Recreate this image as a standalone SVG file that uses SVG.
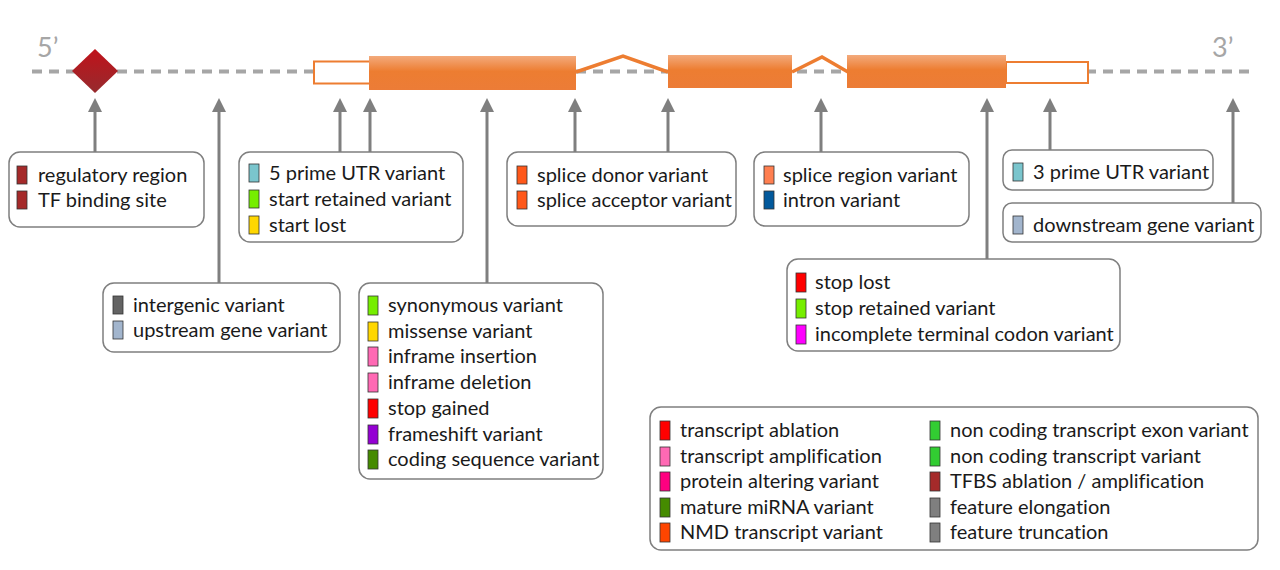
<svg xmlns="http://www.w3.org/2000/svg" width="1280" height="570" viewBox="0 0 1280 570">
<style>
.box{fill:#fff;stroke:#7f7f7f;stroke-width:1.5}
.t{font-family:Lato,"Liberation Sans",sans-serif;font-size:20px;fill:#1a1a1a;font-variant-ligatures:none}
.end{font-family:Lato,"Liberation Sans",sans-serif;font-size:27px;fill:#a6a6a6}
.sw{stroke:#333;stroke-width:0.8}
.arr{stroke:#7f7f7f;stroke-width:3;fill:none;marker-end:url(#ah)}
.exon{fill:url(#eg)}
.utr{fill:#fff;stroke:#ed7d31;stroke-width:2}
.intron{fill:none;stroke:#ed7d31;stroke-width:3.5;stroke-linejoin:miter}
</style>
<defs>
<marker id="ah" markerUnits="userSpaceOnUse" markerWidth="14" markerHeight="14" viewBox="0 0 12 12" refX="0" refY="6" orient="auto">
<path d="M0,0 L12,6 L0,12 z" fill="#7f7f7f"/>
</marker>
<linearGradient id="eg" x1="0" y1="0" x2="0" y2="1">
<stop offset="0" stop-color="#f3aa7c"/>
<stop offset="0.45" stop-color="#ed7d31"/>
<stop offset="1" stop-color="#ec7c37"/>
</linearGradient>
<linearGradient id="dg" x1="0" y1="0" x2="0" y2="1">
<stop offset="0" stop-color="#c0121a"/>
<stop offset="1" stop-color="#962b2e"/>
</linearGradient>
</defs>
<rect width="1280" height="570" fill="#fff"/>

<g id="gene">
<line x1="32" y1="71.5" x2="1250" y2="71.5" stroke="#a6a6a6" stroke-width="4" stroke-dasharray="10,7"/>
<text class="end" x="37" y="57">5’</text>
<text class="end" x="1212" y="57">3’</text>
<polygon points="95,49 118,71 95,93 72,71" fill="url(#dg)"/>
<rect class="utr" x="314" y="61.5" width="56" height="22"/>
<rect class="utr" x="1006" y="62" width="82" height="21"/>
<polyline class="intron" points="576,72 623,56 668,72"/>
<polyline class="intron" points="792,72 822,57 848,72"/>
<rect class="exon" x="369" y="56" width="207" height="34"/>
<rect class="exon" x="668" y="55" width="124" height="33"/>
<rect class="exon" x="847" y="55" width="159" height="33"/>
</g>

<g id="connectors">
<line class="arr" x1="95" y1="152" x2="95" y2="112"/>
<line class="arr" x1="219" y1="283" x2="219" y2="112"/>
<line class="arr" x1="340" y1="152" x2="340" y2="112"/>
<line class="arr" x1="370" y1="152" x2="370" y2="112"/>
<line class="arr" x1="487" y1="283" x2="487" y2="112"/>
<line class="arr" x1="575" y1="152" x2="575" y2="112"/>
<line class="arr" x1="668" y1="152" x2="668" y2="112"/>
<line class="arr" x1="821" y1="152" x2="821" y2="112"/>
<line class="arr" x1="987" y1="259" x2="987" y2="112"/>
<line class="arr" x1="1050" y1="150" x2="1050" y2="112"/>
<line class="arr" x1="1233" y1="203" x2="1233" y2="112"/>
</g>

<g id="regulatory">
<rect class="box" x="9" y="152" width="195" height="75" rx="11"/>
<rect class="sw" x="17" y="166" width="10" height="18" fill="#a52a2a"/>
<text class="t" x="38" y="182">regulatory region</text>
<rect class="sw" x="17" y="191" width="10" height="18" fill="#a52a2a"/>
<text class="t" x="38" y="207">TF binding site</text>
</g>

<g id="utr5">
<rect class="box" x="239" y="152" width="224" height="90" rx="11"/>
<rect class="sw" x="249" y="164" width="10" height="18" fill="#7ac5cd"/>
<text class="t" x="269" y="180">5 prime UTR variant</text>
<rect class="sw" x="249" y="190" width="10" height="18" fill="#76ee00"/>
<text class="t" x="269" y="206">start retained variant</text>
<rect class="sw" x="249" y="216" width="10" height="18" fill="#ffd700"/>
<text class="t" x="269" y="232">start lost</text>
</g>

<g id="splice">
<rect class="box" x="507" y="152" width="229" height="74" rx="11"/>
<rect class="sw" x="517" y="166" width="10" height="18" fill="#ff581a"/>
<text class="t" x="537" y="182">splice donor variant</text>
<rect class="sw" x="517" y="191" width="10" height="18" fill="#ff581a"/>
<text class="t" x="537" y="207">splice acceptor variant</text>
</g>

<g id="intron">
<rect class="box" x="754" y="152" width="215" height="74" rx="11"/>
<rect class="sw" x="764" y="166" width="10" height="18" fill="#ff7f50"/>
<text class="t" x="783" y="182">splice region variant</text>
<rect class="sw" x="764" y="191" width="10" height="18" fill="#02599c"/>
<text class="t" x="783" y="207">intron variant</text>
</g>

<g id="utr3">
<rect class="box" x="1003" y="150" width="210" height="40" rx="9"/>
<rect class="sw" x="1013" y="163" width="10" height="18" fill="#7ac5cd"/>
<text class="t" x="1033" y="179">3 prime UTR variant</text>
</g>

<g id="downstream">
<rect class="box" x="1003" y="203" width="258" height="39" rx="9"/>
<rect class="sw" x="1013" y="216" width="10" height="18" fill="#a2b5cd"/>
<text class="t" x="1033" y="232">downstream gene variant</text>
</g>

<g id="intergenic">
<rect class="box" x="103" y="283" width="237" height="69" rx="11"/>
<rect class="sw" x="113" y="296" width="10" height="18" fill="#636363"/>
<text class="t" x="133" y="312">intergenic variant</text>
<rect class="sw" x="113" y="321" width="10" height="18" fill="#a2b5cd"/>
<text class="t" x="133" y="337">upstream gene variant</text>
</g>

<g id="coding">
<rect class="box" x="359" y="283" width="244" height="196" rx="11"/>
<rect class="sw" x="368" y="296" width="10" height="19" fill="#76ee00"/>
<text class="t" x="388" y="312">synonymous variant</text>
<rect class="sw" x="368" y="322" width="10" height="19" fill="#ffd700"/>
<text class="t" x="388" y="338">missense variant</text>
<rect class="sw" x="368" y="347" width="10" height="19" fill="#ff69b4"/>
<text class="t" x="388" y="363">inframe insertion</text>
<rect class="sw" x="368" y="373" width="10" height="19" fill="#ff69b4"/>
<text class="t" x="388" y="389">inframe deletion</text>
<rect class="sw" x="368" y="399" width="10" height="19" fill="#ff0000"/>
<text class="t" x="388" y="415">stop gained</text>
<rect class="sw" x="368" y="425" width="10" height="19" fill="#9400d3"/>
<text class="t" x="388" y="441">frameshift variant</text>
<rect class="sw" x="368" y="450" width="10" height="19" fill="#458b00"/>
<text class="t" x="388" y="466">coding sequence variant</text>
</g>

<g id="stop">
<rect class="box" x="787" y="259" width="333" height="92" rx="11"/>
<rect class="sw" x="796" y="273" width="10" height="19" fill="#ff0000"/>
<text class="t" x="815" y="289">stop lost</text>
<rect class="sw" x="796" y="299" width="10" height="19" fill="#76ee00"/>
<text class="t" x="815" y="315">stop retained variant</text>
<rect class="sw" x="796" y="325" width="10" height="19" fill="#ff00ff"/>
<text class="t" x="815" y="341">incomplete terminal codon variant</text>
</g>

<g id="legend">
<rect class="box" x="650" y="407" width="608" height="143" rx="11"/>
<rect class="sw" x="660" y="421" width="10" height="19" fill="#ff0000"/>
<text class="t" x="680" y="437">transcript ablation</text>
<rect class="sw" x="660" y="447" width="10" height="19" fill="#ff69b4"/>
<text class="t" x="680" y="463">transcript amplification</text>
<rect class="sw" x="660" y="472" width="10" height="19" fill="#ff0080"/>
<text class="t" x="680" y="488">protein altering variant</text>
<rect class="sw" x="660" y="498" width="10" height="19" fill="#458b00"/>
<text class="t" x="680" y="514">mature miRNA variant</text>
<rect class="sw" x="660" y="523" width="10" height="19" fill="#ff4500"/>
<text class="t" x="680" y="539">NMD transcript variant</text>
<rect class="sw" x="930" y="421" width="10" height="19" fill="#32cd32"/>
<text class="t" x="950" y="437">non coding transcript exon variant</text>
<rect class="sw" x="930" y="447" width="10" height="19" fill="#32cd32"/>
<text class="t" x="950" y="463">non coding transcript variant</text>
<rect class="sw" x="930" y="472" width="10" height="19" fill="#a52a2a"/>
<text class="t" x="950" y="488">TFBS ablation / amplification</text>
<rect class="sw" x="930" y="498" width="10" height="19" fill="#7f7f7f"/>
<text class="t" x="950" y="514">feature elongation</text>
<rect class="sw" x="930" y="523" width="10" height="19" fill="#7f7f7f"/>
<text class="t" x="950" y="539">feature truncation</text>
</g>
</svg>
